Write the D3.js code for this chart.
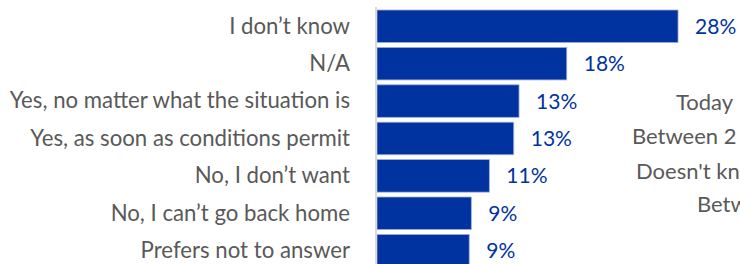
<!doctype html>
<html lang="en">
<head>
<meta charset="utf-8">
<title>Return intention</title>
<script src="https://cdn.jsdelivr.net/npm/d3@7"></script>
<style>
  html, body { margin: 0; padding: 0; background: #fff; }
  svg { display: block; font-family: Lato, "Open Sans", sans-serif; }
</style>
</head>
<body>
<svg id="chart"></svg>
<script>
  // data
  var categories = [
    "I don\u2019t know",
    "N/A",
    "Yes, no matter what the situation is",
    "Yes, as soon as conditions permit",
    "No, I don\u2019t want",
    "No, I can\u2019t go back home",
    "Prefers not to answer"
  ];
  var values = [28.4, 17.9, 13.4, 12.9, 10.6, 8.9, 8.7];
  var valueLabels = ["28%", "18%", "13%", "13%", "11%", "9%", "9%"];

  // stray legend text from a neighbouring chart, cut at the right edge
  var sideTexts = ["Today", "Between 2", "Doesn't kn", "Betw"];

  var W = 740, H = 264;
  var margin = {top: 10, left: 377};

  var svg = d3.select("#chart").attr("width", W).attr("height", H);

  var y = d3.scaleBand()
    .domain(categories)
    .range([margin.top, margin.top + 37.4 * (categories.length - 0.13)])
    .paddingInner(0.13)
    .paddingOuter(0);

  var x = d3.scaleLinear()
    .domain([0, 30])
    .range([margin.left, margin.left + 318]);

  var rows = categories.map(function(c, i){
    return {cat: c, v: values[i], label: valueLabels[i]};
  });

  // bars
  svg.append("g").attr("id", "bars")
    .selectAll("rect")
    .data(rows)
    .enter()
    .append("rect")
    .attr("x", x(0))
    .attr("y", function(d){ return y(d.cat); })
    .attr("width", function(d){ return x(d.v) - x(0); })
    .attr("height", y.bandwidth())
    .attr("fill", "#0033a0")
    .attr("stroke", "#9fb0da")
    .attr("stroke-width", 0.8);

  // category axis
  var axis = svg.append("g")
    .attr("transform", "translate(" + (x(0) - 1) + ",0)")
    .call(d3.axisLeft(y).tickSize(0).tickSizeOuter(0).tickPadding(26));
  axis.select(".domain")
    .attr("stroke", "#d9d9d9")
    .attr("stroke-width", 2)
    .attr("d", "M0," + (margin.top - 3) + "V" + H);
  axis.selectAll(".tick text")
    .attr("fill", "#595959")
    .attr("font-family", "Lato, 'Open Sans', sans-serif")
    .attr("font-size", 22.2)
    .attr("dy", "0.33em");

  // value labels
  svg.append("g").attr("id", "values")
    .selectAll("text")
    .data(rows)
    .enter()
    .append("text")
    .attr("x", function(d){ return x(d.v) + 17; })
    .attr("y", function(d){ return y(d.cat) + y.bandwidth() / 2; })
    .attr("dy", "0.36em")
    .attr("fill", "#0033a0")
    .attr("font-size", 21)
    .text(function(d){ return d.label; });

  // clipped side text
  var sideX = [676, 632, 636, 697];
  var sideY = [110, 144, 179, 212];
  svg.append("g").attr("id", "side")
    .selectAll("text")
    .data(sideTexts)
    .enter()
    .append("text")
    .attr("x", function(d, i){ return sideX[i]; })
    .attr("y", function(d, i){ return sideY[i]; })
    .attr("fill", "#595959")
    .attr("font-size", 22)
    .text(function(d){ return d; });
</script>
</body>
</html>
